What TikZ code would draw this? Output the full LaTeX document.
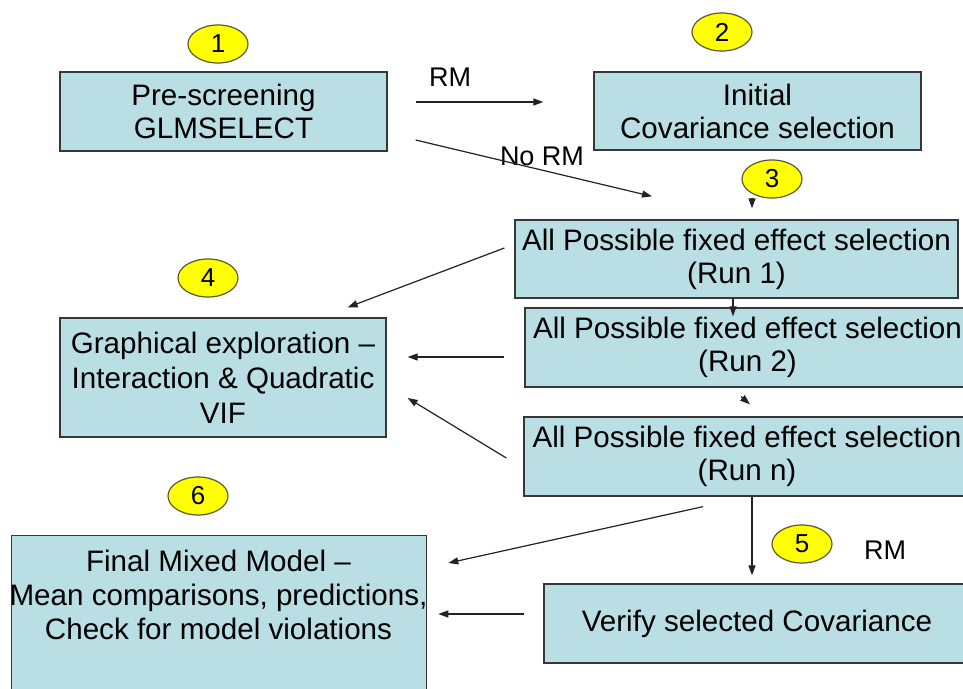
\documentclass[tikz,border=0pt]{standalone}
\usepackage{fontspec}
\setmainfont{Liberation Sans}
\usetikzlibrary{arrows.meta,shapes.geometric,calc}
\definecolor{boxfill}{RGB}{185,222,227}
\definecolor{boxline}{RGB}{55,55,55}
\definecolor{tagfill}{RGB}{255,255,0}
\definecolor{tagline}{RGB}{90,90,50}
\definecolor{arrowcol}{RGB}{35,35,35}
\begin{document}
\begin{tikzpicture}[x=1pt,y=-1pt,
  box/.style={draw=boxline, line width=1.3pt, fill=boxfill, align=center,
    inner sep=0pt, font=\fontsize{29.6}{33}\selectfont},
  tag/.style={ellipse, draw=tagline, line width=1.2pt, fill=tagfill,
    minimum width=60pt, minimum height=38pt, inner sep=0pt,
    font=\fontsize{26}{30}\selectfont},
  lbl/.style={font=\fontsize{27}{30}\selectfont, inner sep=0pt},
  txt/.style={align=center, inner sep=0pt, font=\fontsize{29.6}{34}\selectfont},
  arr/.style={draw=arrowcol, line width=1.2pt, -{Triangle[length=10pt,width=7pt]}}]
\useasboundingbox (0,0) rectangle (963,688);
\clip (0,0) rectangle (963,688);
\fill[white] (0,0) rectangle (963,688);

% process boxes
\node[box, minimum width=327pt, minimum height=79pt] (pre) at (223.5,111.5)
  {Pre-screening\\GLMSELECT};
\node[box, minimum width=327pt, minimum height=78pt] (init) at (757.5,111)
  {Initial\\Covariance selection};
\node[box, minimum width=443pt, minimum height=78pt] (run1) at (736.5,259)
  {All Possible fixed effect selection\\(Run 1)};
\node[box, minimum width=445pt, minimum height=79pt] (run2) at (747.5,347.5)
  {All Possible fixed effect selection\\(Run 2)};
\node[box, minimum width=446pt, minimum height=79pt] (runn) at (747,456.5)
  {All Possible fixed effect selection\\(Run n)};
\node[box, minimum width=426pt, minimum height=79pt] (verify) at (757,623.5)
  {Verify selected Covariance};
\node[box, minimum width=326pt, minimum height=119pt,
  font=\fontsize{29.6}{35}\selectfont] (graph) at (223,377.5)
  {Graphical exploration –\\Interaction \& Quadratic\\VIF};
\node[box, minimum width=415pt, minimum height=170pt, anchor=north west]
  (final) at (11,535) {};
\node[txt] (finaltxt) at (218.5,595)
  {Final Mixed Model –\\Mean comparisons, predictions,\\Check for model violations};

% numbered tags
\node[tag] (t1) at (218,44) {1};
\node[tag] (t2) at (722,32) {2};
\node[tag] (t3) at (772,179) {3};
\node[tag] (t4) at (208,278) {4};
\node[tag] (t5) at (802,544) {5};
\node[tag] (t6) at (198,496) {6};

% branch labels
\node[lbl] (rm1) at (450,77) {RM};
\node[lbl] (norm) at (542,156) {No RM};
\node[lbl] (rm2) at (885,550) {RM};

% connectors
\draw[arr] ($(pre.east)+(28,-9.5)$) -- ($(init.west)+(-50,-9)$);
\draw[arr] ($(pre.east)+(28,28.5)$) -- ($(run1.north)+(-84.5,-23)$);
\draw[arr] ($(t3.south)+(-20,-1)$) -- ($(run1.north)+(15.5,-11)$);
\draw[arr] ($(run1.south)+(-3.5,0)$) -- ($(run2.north)+(-14.5,9)$);
\draw[arr] ($(run2.south)+(-6.5,9)$) -- ($(runn.north)+(3,-12)$);
\draw[arr] ($(runn.south)+(5,0)$) -- ($(verify.north)+(-5,-8)$);
\draw[arr] ($(run1.west)+(-10,-11)$) -- ($(graph.north east)+(-39,-10)$);
\draw[arr] ($(run2.west)+(-20,9.5)$) -- ($(graph.east)+(21,-20.5)$);
\draw[arr] ($(runn.west)+(-17,1.5)$) -- ($(graph.east)+(21,20.5)$);
\draw[arr] ($(runn.south)+(-44,10)$) -- ($(final.north east)+(21,28)$);
\draw[arr] ($(verify.west)+(-19,-9.5)$) -- ($(final.north east)+(11,79)$);
\end{tikzpicture}
\end{document}
